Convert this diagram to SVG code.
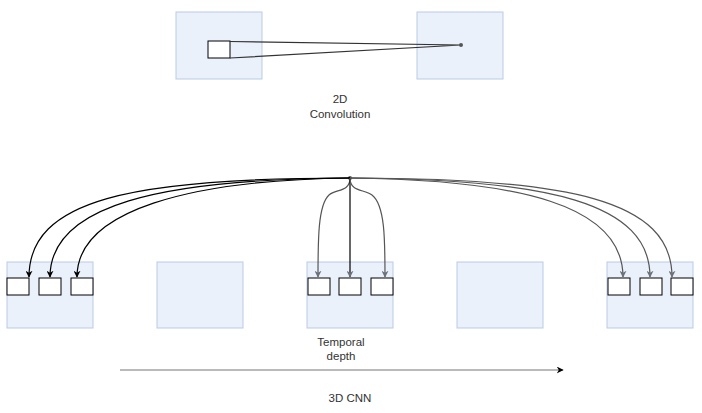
<svg xmlns="http://www.w3.org/2000/svg" width="702" height="413" viewBox="0 0 702 413">
<defs>
<style>
.frame{fill:#eaf1fb;stroke:#b9cbe4;stroke-width:1}
.cell{fill:#ffffff;stroke:#000000;stroke-width:1}
.lbl{font-family:"Liberation Sans",Arial,sans-serif;font-size:11.5px;fill:#333333;text-anchor:middle}
.ck{fill:none;stroke:#000000;stroke-width:1.2}
.cg{fill:none;stroke:#555555;stroke-width:1.2}
</style>
<marker id="ab" viewBox="0 0 10 10" refX="9" refY="5" markerWidth="7" markerHeight="7" orient="auto" markerUnits="userSpaceOnUse"><path d="M0,0 L10,5 L0,10 L3,5 Z" fill="#000000"/></marker>
<marker id="ag" viewBox="0 0 10 10" refX="9" refY="5" markerWidth="7" markerHeight="7" orient="auto" markerUnits="userSpaceOnUse"><path d="M0,0 L10,5 L0,10 L3,5 Z" fill="#6d7178"/></marker>
</defs>
<rect width="702" height="413" fill="#ffffff"/>

<g id="conv2d-input"><rect class="frame" x="176" y="12" width="86" height="67"/><rect class="cell" x="208" y="41" width="22" height="17"/></g>
<g id="conv2d-output"><rect class="frame" x="417" y="12" width="86" height="67"/></g>
<g id="label-2d"><text class="lbl" x="340" y="103">2D</text><text class="lbl" x="340" y="118">Convolution</text></g>

<g id="frame1"><rect class="frame" x="7" y="262" width="86" height="66"/><rect class="cell" x="7" y="278" width="22" height="17"/><rect class="cell" x="39" y="278" width="22" height="17"/><rect class="cell" x="71" y="278" width="22" height="17"/></g>
<g id="frame2"><rect class="frame" x="157" y="262" width="86" height="66"/></g>
<g id="frame3"><rect class="frame" x="307" y="262" width="86" height="66"/><rect class="cell" x="308" y="278" width="22" height="17"/><rect class="cell" x="339" y="278" width="22" height="17"/><rect class="cell" x="371" y="278" width="22" height="17"/></g>
<g id="frame4"><rect class="frame" x="457" y="262" width="86" height="66"/></g>
<g id="frame5"><rect class="frame" x="607" y="262" width="86" height="66"/><rect class="cell" x="608" y="278" width="22" height="17"/><rect class="cell" x="640" y="278" width="22" height="17"/><rect class="cell" x="671" y="278" width="22" height="17"/></g>

<g id="label-temporal"><text class="lbl" x="341" y="346">Temporal</text><text class="lbl" x="341" y="360">depth</text></g>
<g id="label-3d"><text class="lbl" x="350" y="402">3D CNN</text></g>

<g id="connectors">
<path d="M230,41.5 L461,45 L230,58" fill="none" stroke="#333333" stroke-width="1.2"/>
<circle cx="461" cy="45" r="2" fill="#555555"/>
<circle cx="350" cy="178" r="2" fill="#555555"/>
<path class="ck" d="M350,178 C130,178 29,200 29,277" marker-end="url(#ab)"/>
<path class="ck" d="M350,178 C160,179 50,205 50,277" marker-end="url(#ab)"/>
<path class="ck" d="M350,178 C190,180 77,210 77,277" marker-end="url(#ab)"/>
<path class="cg" d="M350,178 C350,192 336,189 329,195 C318,205 318,240 318,277" marker-end="url(#ag)"/>
<path class="ck" d="M350,178 L350,277" marker-end="url(#ag)"/>
<path class="cg" d="M350,178 C350,192 364,189 372,195 C385,205 385,240 385,277" marker-end="url(#ag)"/>
<path class="cg" d="M350,178 C520,180 623,205 623,277" marker-end="url(#ag)"/>
<path class="cg" d="M350,178 C550,179 650,203 650,277" marker-end="url(#ag)"/>
<path class="cg" d="M350,178 C570,178 672,200 672,277" marker-end="url(#ag)"/>
<path d="M120,370 L563,370" fill="none" stroke="#777777" stroke-width="1.2" marker-end="url(#ab)"/>
</g>
</svg>
